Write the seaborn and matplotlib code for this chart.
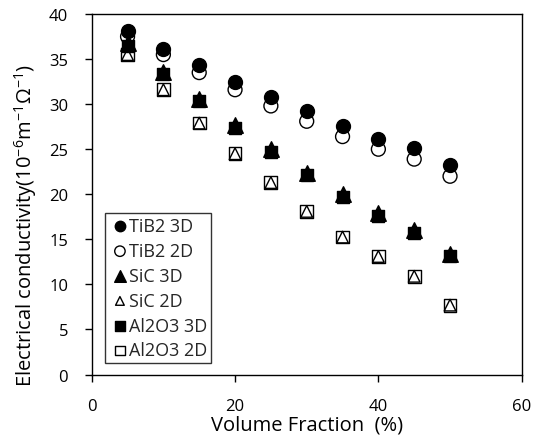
import matplotlib
matplotlib.use("Agg")
import matplotlib.pyplot as plt
import seaborn as sns
import pandas as pd

sns.set_theme(style="white")
plt.rcParams['font.family'] = ['Open Sans', 'DejaVu Sans']
plt.rcParams['mathtext.fontset'] = 'custom'
plt.rcParams['mathtext.rm'] = 'Open Sans'
plt.rcParams['mathtext.it'] = 'Open Sans'
plt.rcParams['mathtext.default'] = 'regular'

volume_fraction = [5, 10, 15, 20, 25, 30, 35, 40, 45, 50]
tib2_3d = [38.1, 36.1, 34.3, 32.5, 30.8, 29.2, 27.6, 26.1, 25.1, 23.2]
tib2_2d = [37.5, 35.5, 33.5, 31.6, 29.8, 28.1, 26.4, 25.0, 23.9, 22.0]
sic_3d = [36.8, 33.6, 30.6, 27.7, 25.0, 22.4, 20.0, 17.9, 16.0, 13.4]
sic_2d = [35.5, 31.6, 27.9, 24.5, 21.3, 18.1, 15.25, 13.1, 10.9, 7.7]
al2o3_3d = [36.5, 33.3, 30.3, 27.4, 24.7, 22.1, 19.7, 17.6, 15.7, 13.1]
al2o3_2d = [35.5, 31.6, 27.9, 24.5, 21.3, 18.1, 15.25, 13.1, 10.9, 7.7]

series = [
    ("TiB2 2D", tib2_2d, "o", "none", 100),
    ("TiB2 3D", tib2_3d, "o", "black", 100),
    ("SiC 2D", sic_2d, "^", "none", 70),
    ("Al2O3 2D", al2o3_2d, "s", "none", 85),
    ("Al2O3 3D", al2o3_3d, "s", "black", 75),
    ("SiC 3D", sic_3d, "^", "black", 125),
]
legend_order = ["TiB2 3D", "TiB2 2D", "SiC 3D", "SiC 2D", "Al2O3 3D", "Al2O3 2D"]

fig = plt.figure(figsize=(5.37, 4.39), dpi=100)
ax = fig.add_axes([0.1708, 0.1446, 0.8007, 0.8212])

handles = {}
for name, vals, mk, fc, s in series:
    df = pd.DataFrame({"x": volume_fraction, "y": vals})
    sns.scatterplot(data=df, x="x", y="y", ax=ax, marker=mk, s=s,
                    facecolors=fc, edgecolors="black", linewidths=1.0,
                    color="black", legend=False)
    handles[name] = ax.collections[-1]

ax.set_xlim(0, 60)
ax.set_ylim(0, 40)
ax.set_xticks([0, 20, 40, 60])
ax.set_yticks(range(0, 41, 5))
for sp in ax.spines.values():
    sp.set_color("black")
    sp.set_linewidth(1.0)
ax.tick_params(axis="both", direction="out", length=5, width=1, color="black",
               labelsize=12, labelcolor="black", left=True, bottom=True)
ax.tick_params(axis="x", pad=12)
ax.tick_params(axis="y", pad=12)

ax.set_xlabel("Volume Fraction  (%)", fontsize=14.5, color="black", labelpad=0)
ax.set_ylabel("Electrical conductivity(10$^{-6}$m$^{-1}$Ω$^{-1}$)", fontsize=14.5,
              color="black", labelpad=7)
ax.yaxis.label.set_y(0.415)

leg = ax.legend([handles[n] for n in legend_order], legend_order,
                loc="lower left", bbox_to_anchor=(0.032, 0.032), frameon=True,
                fancybox=False, edgecolor="black", fontsize=13,
                handletextpad=-0.1, borderpad=0.2, labelspacing=0.38,
                markerscale=0.75, borderaxespad=0, handlelength=1.2)
leg.get_frame().set_linewidth(1.0)

fig.savefig("out.png", dpi=100)
